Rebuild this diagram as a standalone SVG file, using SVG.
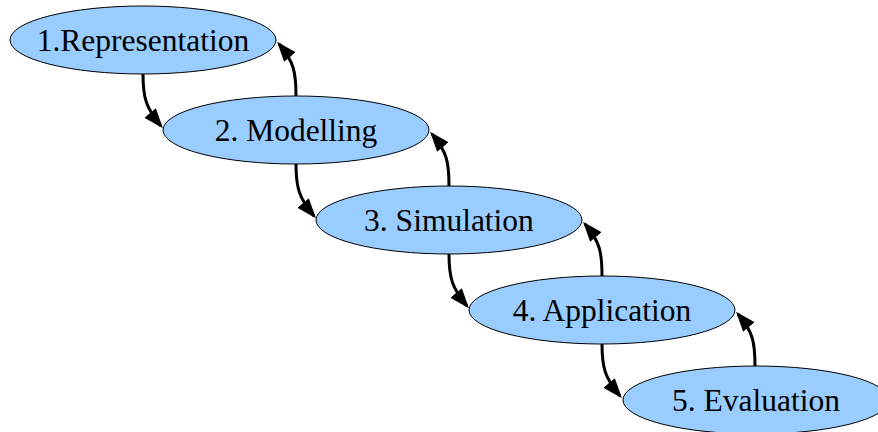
<svg xmlns="http://www.w3.org/2000/svg" width="878" height="432" viewBox="0 0 878 432">
<style>
.node ellipse{fill:#99ccff;stroke:#000;stroke-width:1}
.node text{font-family:"Liberation Serif","Times New Roman",serif;font-size:31.5px;fill:#000;text-anchor:middle}
.edge{fill:none;stroke:#000;stroke-width:3;marker-end:url(#ah)}
</style>
<defs>
<marker id="ah" markerUnits="userSpaceOnUse" markerWidth="22" markerHeight="16" refX="17" refY="7.5" orient="auto">
<path d="M0,0 L20,7.5 L0,15 z" fill="#000"/>
</marker>
</defs>
<rect width="878" height="432" fill="#fff"/>
<g id="connectors">
<path class="edge" d="M143,74 C143,98 146,108 161,126"/>
<path class="edge" d="M296,164 C296,188 299,198 314,216"/>
<path class="edge" d="M449,254 C449,278 452,288 467,306"/>
<path class="edge" d="M602,344 C602,368 605,378 620,396"/>
<path class="edge" d="M296,96 C296,72 294,62 279,44"/>
<path class="edge" d="M449,186 C449,162 447,152 432,134"/>
<path class="edge" d="M602,276 C602,252 600,242 585,224"/>
<path class="edge" d="M755,366 C755,342 753,332 738,314"/>
</g>
<g id="n1" class="node"><ellipse cx="143" cy="40" rx="133" ry="34"/><text x="143" y="51">1.Representation</text></g>
<g id="n2" class="node"><ellipse cx="296" cy="130" rx="133" ry="34"/><text x="296" y="141">2. Modelling</text></g>
<g id="n3" class="node"><ellipse cx="449" cy="220" rx="133" ry="34"/><text x="449" y="231">3. Simulation</text></g>
<g id="n4" class="node"><ellipse cx="602" cy="310" rx="133" ry="34"/><text x="602" y="321">4. Application</text></g>
<g id="n5" class="node"><ellipse cx="756" cy="400" rx="133" ry="34"/><text x="756" y="411">5. Evaluation</text></g>
</svg>
